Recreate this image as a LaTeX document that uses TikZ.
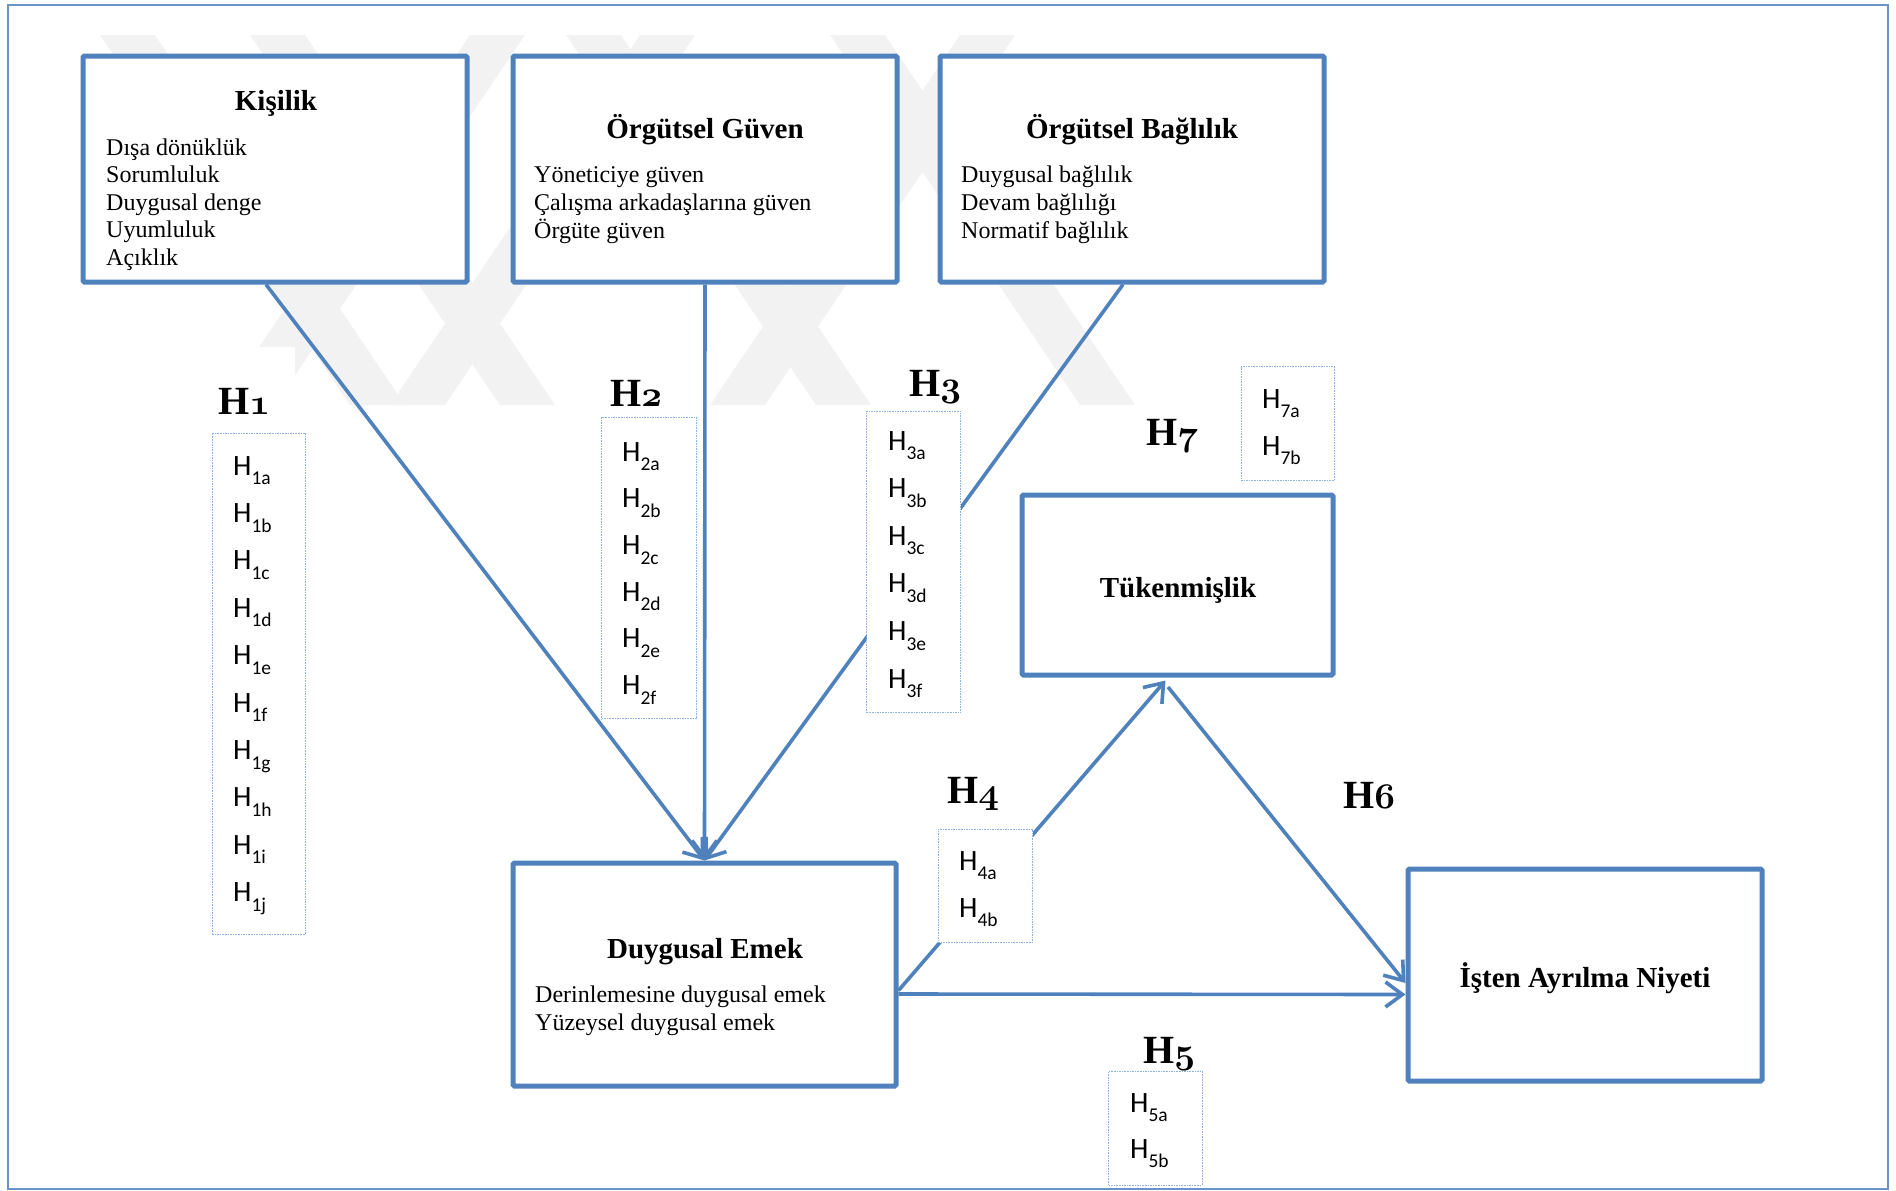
\documentclass[tikz,border=0pt]{standalone}
\usepackage{fontspec}
\usepackage{graphicx}
\setmainfont{Liberation Serif}
\newfontfamily\hfont{Carlito}
\usetikzlibrary{arrows.meta,calc}

\definecolor{boxblue}{RGB}{79,129,189}
\definecolor{listblue}{RGB}{141,179,226}
\definecolor{wmgray}{RGB}{242,242,242}

% old-style bold numerals for the hypothesis labels
\newcommand{\osnum}[1]{\scalebox{1.45}{\fontsize{24.88}{30}\usefont{OML}{cmm}{b}{it}#1}}
\newcommand{\bigH}[1]{\textbf{H}\osnum{#1}}
% sub-hypothesis label: H with a lowered index
\newcommand{\hsub}[1]{H\raisebox{-9.6pt}{\fontsize{19.5}{20}\selectfont #1}}

\begin{document}
\begin{tikzpicture}[x=1pt,y=-1pt,
  bigbox/.style={draw=boxblue, line width=5pt, fill=white, inner sep=0pt, rounded corners=1.5pt},
  listbox/.style={draw=listblue, line width=0.9pt, dash pattern=on 1.6pt off 1pt, fill=white, inner sep=0pt, outer sep=0pt},
  link/.style={draw=boxblue, line width=3.6pt, -{Straight Barb[length=17pt,width=25pt]}},
  boxtitle/.style={font=\fontsize{29}{34}\selectfont\bfseries, inner sep=0pt, anchor=base},
  boxitem/.style={font=\fontsize{24}{28}\selectfont, inner sep=0pt, anchor=base west},
  hyplabel/.style={font=\fontsize{40}{46}\selectfont, inner sep=0pt, anchor=base west},
  hypitem/.style={font=\hfont\fontsize{29.5}{34}\selectfont, inner sep=0pt, anchor=base west},
  wm/.style={fill=wmgray},
]
\useasboundingbox (0,0) rectangle (1896,1191);

% background emblem
\foreach \a in {100,250,566,830}
  \fill[wm] (\a,35) -- ++(55,0) -- ++(250,370) -- ++(-55,0) -- cycle;
\foreach \a in {470,640,960}
  \fill[wm] (\a,35) -- ++(55,0) -- ++(-250,370) -- ++(-55,0) -- cycle;

% white label backgrounds
\fill[white] (183,347) rectangle (295,431);
\fill[white] (570,338) rectangle (698,415);
\fill[white] (879,330) rectangle (985,409);

% outer frame
\draw[line width=2pt, boxblue!85] (8,5) rectangle (1888,1189);

% construct boxes
\node[bigbox, minimum width=384, minimum height=226] (kisilik) at (275,169) {};
\node[bigbox, minimum width=384, minimum height=226] (guven) at (705,169) {};
\node[bigbox, minimum width=384, minimum height=226] (baglilik) at (1132,169) {};
\node[bigbox, minimum width=383, minimum height=223] (emek) at (704.5,974.5) {};
\node[bigbox, minimum width=311, minimum height=180] (tuk) at (1177.5,585) {};
\node[bigbox, minimum width=354, minimum height=212] (niyet) at (1585,975) {};

% hypothesised paths
\draw[link] ([xshift=-9pt]kisilik.south) -- (emek.north);
\draw[link] (guven.south) -- (emek.north);
\draw[link] ([xshift=-9pt]baglilik.south) -- (emek.north);
\draw[link] ([yshift=-16pt]emek.east) -- ([xshift=-12pt,yshift=-3pt]tuk.south);
\draw[link] ([yshift=-19.5pt]emek.east) -- ([yshift=-19.5pt]niyet.west);
\coordinate (h6s) at (1168,687);
\draw[link] (h6s) -- ([yshift=-8pt]niyet.west);

% sub-hypothesis lists
\node[listbox, minimum width=93.6, minimum height=501] (l1) at (258.8,683.5) {};
\node[listbox, minimum width=95, minimum height=301.6] (l2) at (649,568) {};
\node[listbox, minimum width=94, minimum height=301.7] (l3) at (913.7,561.9) {};
\node[listbox, minimum width=93, minimum height=114] (l7) at (1287.5,423.7) {};
\node[listbox, minimum width=94.5, minimum height=113.7] (l4) at (985.3,885.9) {};
\node[listbox, minimum width=93.4, minimum height=114] (l5) at (1155.3,1128) {};

% box texts
\node[boxtitle] (kisilik-t) at (276,110) {Kişilik};
\foreach \t [count=\i from 0] in {Dışa dönüklük,Sorumluluk,Duygusal denge,Uyumluluk,Açıklık}
  \node[boxitem] (kisilik-\i) at (106,{155+27.5*\i}) {\t};

\node[boxtitle] (guven-t) at (705,138) {Örgütsel Güven};
\foreach \t [count=\i from 0] in {Yöneticiye güven,Çalışma arkadaşlarına güven,Örgüte güven}
  \node[boxitem] (guven-\i) at (534,{182+28.2*\i}) {\t};

\node[boxtitle] (baglilik-t) at (1132,138) {Örgütsel Bağlılık};
\foreach \t [count=\i from 0] in {Duygusal bağlılık,Devam bağlılığı,Normatif bağlılık}
  \node[boxitem] (baglilik-\i) at (961,{182+28.2*\i}) {\t};

\node[boxtitle] (emek-t) at (705,958) {Duygusal Emek};
\foreach \t [count=\i from 0] in {Derinlemesine duygusal emek,Yüzeysel duygusal emek}
  \node[boxitem] (emek-\i) at (535,{1002+28.2*\i}) {\t};

\node[boxtitle] (tuk-t) at (1178,597) {Tükenmişlik};
\node[boxtitle] (niyet-t) at (1585,987) {İşten Ayrılma Niyeti};

% hypothesis labels
\node[hyplabel] (H1) at (218,414) {\bigH{1}};
\node[hyplabel] (H2) at (610,406) {\bigH{2}};
\node[hyplabel] (H3) at (909,396) {\bigH{3}};
\node[hyplabel] (H7) at (1146,445) {\bigH{7}};
\node[hyplabel] (H4) at (947,803) {\bigH{4}};
\node[hyplabel] (H6) at (1343,808) {\bigH{6}};
\node[hyplabel] (H5) at (1143,1063) {\bigH{5}};

% sub-hypothesis entries
\foreach \s [count=\i from 0] in {1a,1b,1c,1d,1e,1f,1g,1h,1i,1j}
  \node[hypitem] (h1-\i) at (233,{475+47.4*\i}) {\hsub{\s}};
\foreach \s [count=\i from 0] in {2a,2b,2c,2d,2e,2f}
  \node[hypitem] (h2-\i) at (622,{461+46.7*\i}) {\hsub{\s}};
\foreach \s [count=\i from 0] in {3a,3b,3c,3d,3e,3f}
  \node[hypitem] (h3-\i) at (888,{450+47.6*\i}) {\hsub{\s}};
\foreach \s [count=\i from 0] in {7a,7b}
  \node[hypitem] (h7-\i) at (1262,{408+47*\i}) {\hsub{\s}};
\foreach \s [count=\i from 0] in {4a,4b}
  \node[hypitem] (h4-\i) at (959,{870+47*\i}) {\hsub{\s}};
\foreach \s [count=\i from 0] in {5a,5b}
  \node[hypitem] (h5-\i) at (1130,{1112+46*\i}) {\hsub{\s}};
\end{tikzpicture}
\end{document}
